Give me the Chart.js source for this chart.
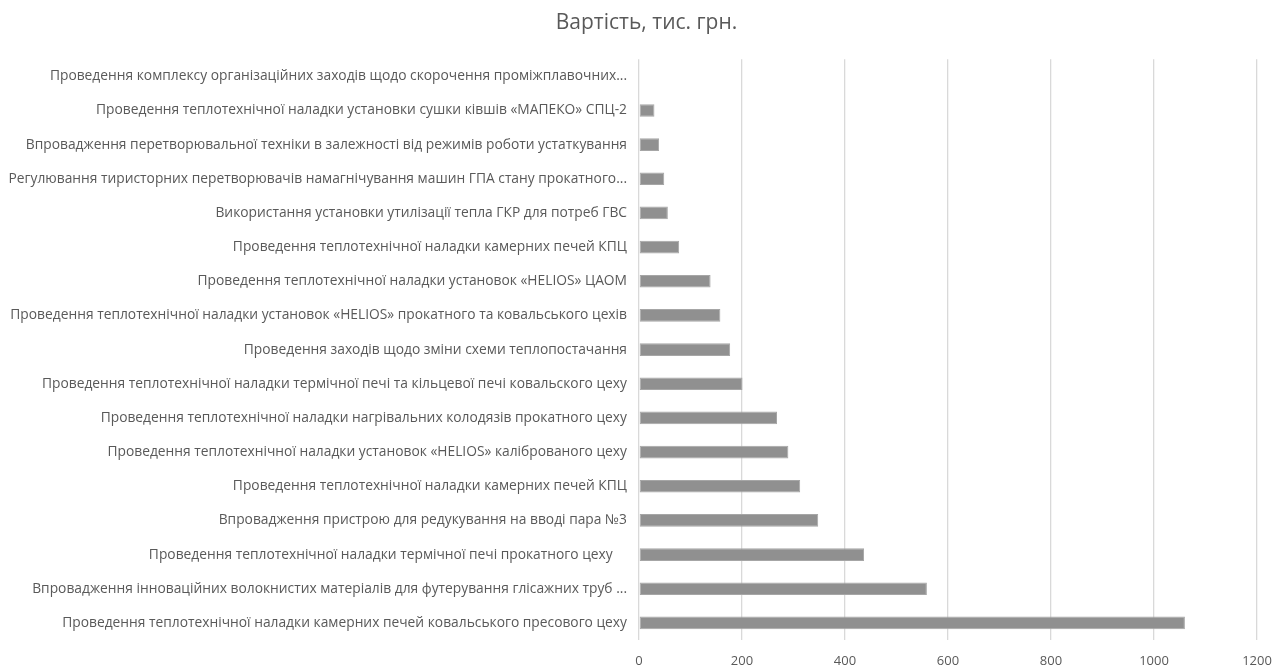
<!DOCTYPE html>
<html lang="uk">
<head>
<meta charset="utf-8">
<title>Вартість, тис. грн.</title>
<script src="https://cdn.jsdelivr.net/npm/chart.js@4/dist/chart.umd.min.js"></script>
<style>
  html, body { margin: 0; padding: 0; background: #ffffff; }
  #wrap { width: 1275px; height: 668px; position: relative; }
  canvas { display: block; }
</style>
</head>
<body>
<div id="wrap"><canvas id="chart" width="1275" height="668"></canvas></div>
<script>
// Energy-saving measures, listed top to bottom
const categories = [
  "Проведення комплексу організаційних заходів щодо скорочення проміжплавочних...",
  "Проведення теплотехнічної наладки установки сушки ківшів «МАПЕКО» СПЦ-2",
  "Впровадження перетворювальної техніки в залежності від режимів роботи устаткування",
  "Регулювання тиристорних перетворювачів намагнічування машин ГПА стану прокатного...",
  "Використання установки утилізації тепла ГКР для потреб ГВС",
  "Проведення теплотехнічної наладки камерних печей КПЦ",
  "Проведення теплотехнічної наладки установок «HELIOS» ЦАОМ",
  "Проведення теплотехнічної наладки установок «HELIOS» прокатного та ковальського цехів",
  "Проведення заходів щодо зміни схеми теплопостачання",
  "Проведення теплотехнічної наладки термічної печі та кільцевої печі ковальского цеху",
  "Проведення теплотехнічної наладки нагрівальних колодязів прокатного цеху",
  "Проведення теплотехнічної наладки установок «HELIOS» каліброваного цеху",
  "Проведення теплотехнічної наладки камерних печей КПЦ",
  "Впровадження пристрою для редукування на вводі пара №3",
  "Проведення теплотехнічної наладки термічної печі прокатного цеху    ",
  "Впровадження інноваційних волокнистих матеріалів для футерування глісажних труб ...",
  "Проведення теплотехнічної наладки камерних печей ковальського пресового цеху"
];

// Cost of each measure, thousand UAH
const costs = [0, 30, 39, 49, 56, 78, 139, 158, 177, 201, 268, 290, 313, 348, 437, 559, 1060];

// Value axis ticks
const xTicks = [0, 200, 400, 600, 800, 1000, 1200];

const TEXT = "#595959";
const GRID = "#d9d9d9";
const FONT = "'Open Sans', 'Noto Sans', sans-serif";

// Narrow the title box from the left so the heading sits right of the canvas centre
const titleOffset = {
  id: "titleOffset",
  afterLayout(chart) {
    if (chart.titleBlock) chart.titleBlock.left += 36;
  }
};

new Chart(document.getElementById("chart"), {
  type: "bar",
  plugins: [titleOffset],
  data: {
    labels: categories,
    datasets: [{
      label: "Вартість, тис. грн.",
      data: costs,
      backgroundColor: "#909090",
      borderColor: "#a6a6a6",
      borderWidth: 1,
      borderSkipped: false,
      categoryPercentage: 1,
      barPercentage: 0.37
    }]
  },
  options: {
    indexAxis: "y",
    responsive: false,
    animation: false,
    layout: { padding: { left: 0, right: 18, top: 0, bottom: 0 } },
    plugins: {
      legend: { display: false },
      tooltip: { enabled: false },
      title: {
        display: true,
        text: "Вартість, тис. грн.",
        color: TEXT,
        font: { family: FONT, size: 21, weight: "normal" },
        padding: { top: 10, bottom: 24 }
      }
    },
    scales: {
      x: {
        min: xTicks[0],
        max: xTicks[xTicks.length - 1],
        afterBuildTicks(scale) {
          scale.ticks = xTicks.map(v => ({ value: v }));
        },
        afterFit(scale) { scale.height = 28; },
        grid: { color: GRID, lineWidth: 1.3, drawTicks: false },
        border: { display: false },
        ticks: {
          color: TEXT,
          padding: 0,
          maxRotation: 0,
          font: { family: FONT, size: 13, lineHeight: "42px" },
          callback: v => String(v)
        }
      },
      y: {
        afterFit(scale) { scale.width = 639; },
        grid: { display: false, drawTicks: false },
        border: { display: false },
        ticks: {
          color: TEXT,
          padding: 12,
          autoSkip: false,
          font: { family: FONT, size: 13.8 }
        }
      }
    }
  }
});
</script>
</body>
</html>
